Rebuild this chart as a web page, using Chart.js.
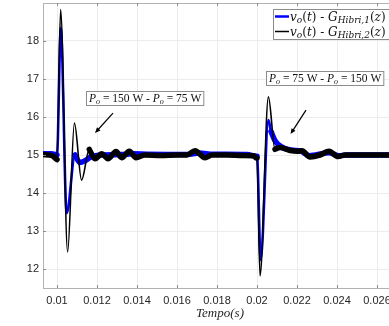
<!DOCTYPE html>
<html>
<head>
<meta charset="utf-8">
<script src="https://cdn.jsdelivr.net/npm/chart.js@4.4.0/dist/chart.umd.min.js"></script>
<style>
html, body { margin: 0; padding: 0; background: #fff; overflow: hidden; }
#wrap { width: 400px; height: 326px; }
</style>
</head>
<body>
<div id="wrap"><canvas id="chart" width="400" height="326"></canvas></div>
<script>
// tick labels
const xTicks = [0.01, 0.012, 0.014, 0.016, 0.018, 0.02, 0.022, 0.024, 0.026];
const yTicks = [12, 13, 14, 15, 16, 17, 18];

// v_o(t) with G_Hibri,2 (black)
const hib2Time = [0.0093, 0.0096, 0.0098, 0.00995, 0.0100, 0.01018, 0.01053, 0.01087, 0.01123,
    0.011615, 0.0119, 0.012235, 0.01255, 0.01295, 0.013235, 0.013615, 0.01395, 0.0144, 0.0152,
    0.0160, 0.016485, 0.0169, 0.0174, 0.01775, 0.0185, 0.0193, 0.01985, 0.01995, 0.0200,
    0.02015, 0.02057, 0.0209, 0.02115, 0.02165, 0.02205, 0.02225, 0.02265, 0.02315, 0.0236,
    0.02405, 0.0244, 0.0255, 0.027];
const hib2Volt = [15.01, 15.0, 14.97, 14.9, 14.88, 18.83, 12.45, 15.84, 14.34,
    15.15, 14.9, 15.03, 14.9, 15.09, 14.93, 15.1, 14.93, 15.0, 14.99,
    15.0, 15.0, 15.11, 14.93, 15.0, 15.0, 14.99, 14.98, 14.92, 14.92,
    11.82, 16.53, 15.15, 15.2, 15.12, 15.1, 15.11, 14.95, 15.0, 15.1,
    14.96, 15.0, 15.0, 15.0];

// v_o(t) with G_Hibri,1 (blue)
const hib1Time = [0.0093, 0.0097, 0.0100, 0.01019, 0.010485, 0.0109, 0.01115, 0.0114, 0.0117,
    0.0122, 0.0132, 0.0138, 0.0145, 0.0165, 0.0171, 0.0178, 0.0195, 0.01995, 0.0200,
    0.020185, 0.02057, 0.0207, 0.0209, 0.0212, 0.0217, 0.0222, 0.0226, 0.0236, 0.0241,
    0.0245, 0.027];
const hib1Volt = [15.03, 15.03, 15.0, 18.34, 13.47, 15.0, 14.8, 14.85, 14.95,
    15.0, 15.01, 15.03, 15.02, 15.01, 15.05, 15.02, 15.01, 14.97, 14.97,
    12.24, 15.92, 15.62, 15.38, 15.22, 15.13, 15.1, 14.98, 15.06, 14.98,
    15.0, 15.0];

// where the switching ripple makes the trace a thick band
const hib2Steady = [[0.0093, 0.0100], [0.011615, 0.0200], [0.0209, 0.027]];
const hib1Steady = [[0.0093, 0.0100], [0.0109, 0.0200], [0.0207, 0.027]];

const toPts = (ts, vs) => ts.map((t, i) => ({ x: t, y: vs[i] }));
const bandPts = (ts, vs, win) => ts.map((t, i) => ({
    x: t,
    y: win.some(w => t >= w[0] && t <= w[1]) ? vs[i] : null
}));

const it = t => ({ t, it: true });
const rm = t => ({ t });
const sb = t => ({ t, it: true, sub: true });

const legendItems = [
    { color: '#0000ff', width: 2.5, runs: [it('v'), sb('o'), rm('('), it('t'), rm(') - '), it('G'), sb('Hibri,1'), rm('('), it('z'), rm(')')] },
    { color: '#000000', width: 1.5, runs: [it('v'), sb('o'), rm('('), it('t'), rm(') - '), it('G'), sb('Hibri,2'), rm('('), it('z'), rm(')')] }
];

const notes = [
    { box: [0.01145, 16.68], tail: [0.0128, 16.1], head: [0.0119, 15.58],
      runs: [it('P'), sb('o'), rm(' = 150 W - '), it('P'), sb('o'), rm(' = 75 W')] },
    { box: [0.02045, 17.21], tail: [0.02245, 16.18], head: [0.021675, 15.55],
      runs: [it('P'), sb('o'), rm(' = 75 W - '), it('P'), sb('o'), rm(' = 150 W')] }
];

const serif = '"Liberation Serif", "DejaVu Serif", serif';
const wideSerif = '"DejaVu Serif", "Liberation Serif", serif';

function richText(ctx, runs, x, y, size, fam) {
    runs.forEach(r => {
        const s = r.sub ? Math.round(size * 0.72) : size;
        ctx.font = (r.it ? 'italic ' : '') + s + 'px ' + fam;
        ctx.fillText(r.t, x, r.sub ? y + size * 0.22 : y);
        x += ctx.measureText(r.t).width;
    });
    return x;
}
function richWidth(ctx, runs, size, fam) {
    let w = 0;
    runs.forEach(r => {
        const s = r.sub ? Math.round(size * 0.72) : size;
        ctx.font = (r.it ? 'italic ' : '') + s + 'px ' + fam;
        w += ctx.measureText(r.t).width;
    });
    return w;
}

const decorations = {
    id: 'decorations',
    afterDatasetsDraw(chart) {
        const { ctx, chartArea: a, scales: { x, y } } = chart;
        ctx.save();
        // top / right border
        ctx.strokeStyle = '#b3b3b3';
        ctx.lineWidth = 1;
        ctx.beginPath();
        ctx.moveTo(a.left, a.top + 0.5);
        ctx.lineTo(a.right, a.top + 0.5);
        ctx.moveTo(a.right - 0.5, a.top);
        ctx.lineTo(a.right - 0.5, a.bottom);
        ctx.stroke();
        // inner tick marks
        ctx.strokeStyle = '#8c8c8c';
        ctx.beginPath();
        xTicks.forEach(v => {
            const px = Math.round(x.getPixelForValue(v)) + 0.5;
            ctx.moveTo(px, a.bottom); ctx.lineTo(px, a.bottom - 3);
            ctx.moveTo(px, a.top); ctx.lineTo(px, a.top + 3);
        });
        yTicks.forEach(v => {
            const py = Math.round(y.getPixelForValue(v)) + 0.5;
            ctx.moveTo(a.left, py); ctx.lineTo(a.left + 3, py);
        });
        ctx.stroke();

        // annotations
        ctx.textBaseline = 'alphabetic';
        notes.forEach(n => {
            const bx = x.getPixelForValue(n.box[0]);
            const by = y.getPixelForValue(n.box[1]);
            const w = richWidth(ctx, n.runs, 11.5, serif) + 5;
            ctx.fillStyle = '#fff';
            ctx.fillRect(bx, by, w, 14);
            ctx.strokeStyle = '#8c8c8c';
            ctx.lineWidth = 1;
            ctx.strokeRect(Math.round(bx) + 0.5, Math.round(by) + 0.5, w, 14);
            ctx.fillStyle = '#111';
            richText(ctx, n.runs, bx + 3, by + 10.5, 11.5, serif);

            const tx = x.getPixelForValue(n.tail[0]), ty = y.getPixelForValue(n.tail[1]);
            const hx = x.getPixelForValue(n.head[0]), hy = y.getPixelForValue(n.head[1]);
            const ang = Math.atan2(hy - ty, hx - tx);
            ctx.strokeStyle = '#000';
            ctx.lineWidth = 1.2;
            ctx.beginPath();
            ctx.moveTo(tx, ty);
            ctx.lineTo(hx - 3 * Math.cos(ang), hy - 3 * Math.sin(ang));
            ctx.stroke();
            ctx.fillStyle = '#000';
            ctx.beginPath();
            ctx.moveTo(hx, hy);
            ctx.lineTo(hx - 6 * Math.cos(ang - 0.4), hy - 6 * Math.sin(ang - 0.4));
            ctx.lineTo(hx - 6 * Math.cos(ang + 0.4), hy - 6 * Math.sin(ang + 0.4));
            ctx.closePath();
            ctx.fill();
        });

        // legend
        const lx = 273, ly = 9;
        ctx.fillStyle = '#fff';
        ctx.fillRect(lx, ly, 140, 30);
        ctx.strokeStyle = '#8c8c8c';
        ctx.lineWidth = 1;
        ctx.strokeRect(lx + 0.5, ly + 0.5, 140, 30);
        legendItems.forEach((item, i) => {
            const cy = ly + 7.5 + i * 15;
            ctx.strokeStyle = item.color;
            ctx.lineWidth = item.width;
            ctx.beginPath();
            ctx.moveTo(lx + 2, cy);
            ctx.lineTo(lx + 16, cy);
            ctx.stroke();
            ctx.fillStyle = '#111';
            richText(ctx, item.runs, lx + 17, cy + 4, 12, wideSerif);
        });
        ctx.restore();
    }
};

const line = (data, color, width, order) => ({
    data, borderColor: color, borderWidth: width, order,
    pointRadius: 0, fill: false, spanGaps: false,
    borderJoinStyle: 'round', borderCapStyle: 'round',
    cubicInterpolationMode: 'monotone'
});

const noPad = axis => {
    axis.paddingTop = 0; axis.paddingBottom = 0;
    axis.paddingLeft = 0; axis.paddingRight = 0;
};

new Chart(document.getElementById('chart'), {
    type: 'line',
    data: {
        datasets: [
            line(bandPts(hib2Time, hib2Volt, hib2Steady), '#000000', 5.5, 0),
            line(toPts(hib2Time, hib2Volt), '#000000', 1.6, 1),
            line(bandPts(hib1Time, hib1Volt, hib1Steady), '#0000ff', 5.5, 2),
            line(toPts(hib1Time, hib1Volt), '#0000ff', 2.6, 3)
        ]
    },
    options: {
        responsive: false,
        animation: false,
        devicePixelRatio: 1,
        layout: { padding: { left: 0, right: 3, top: 3, bottom: 0 } },
        plugins: { legend: { display: false }, tooltip: { enabled: false } },
        scales: {
            x: {
                type: 'linear', min: 0.0093, max: 0.027,
                afterBuildTicks: axis => { axis.ticks = xTicks.map(v => ({ value: v })); },
                afterFit: axis => { axis.height = 38; noPad(axis); },
                grid: { color: '#ececec', drawTicks: false },
                border: { color: '#b3b3b3' },
                ticks: {
                    color: '#262626', padding: 6, maxRotation: 0, autoSkip: false,
                    font: { family: '"Liberation Sans", Arial, sans-serif', size: 11 },
                    callback: v => String(v)
                },
                title: {
                    display: true, text: 'Tempo(s)', color: '#262626',
                    font: { family: serif, style: 'italic', size: 13 },
                    padding: { top: 0, bottom: 5 }
                }
            },
            y: {
                min: 11.5, max: 19,
                afterBuildTicks: axis => { axis.ticks = yTicks.map(v => ({ value: v })); },
                afterFit: axis => { axis.width = 43; noPad(axis); },
                grid: { color: '#ececec', drawTicks: false },
                border: { color: '#b3b3b3' },
                ticks: {
                    color: '#262626', padding: 4,
                    font: { family: '"Liberation Sans", Arial, sans-serif', size: 11 }
                }
            }
        }
    },
    plugins: [decorations]
});
</script>
</body>
</html>
